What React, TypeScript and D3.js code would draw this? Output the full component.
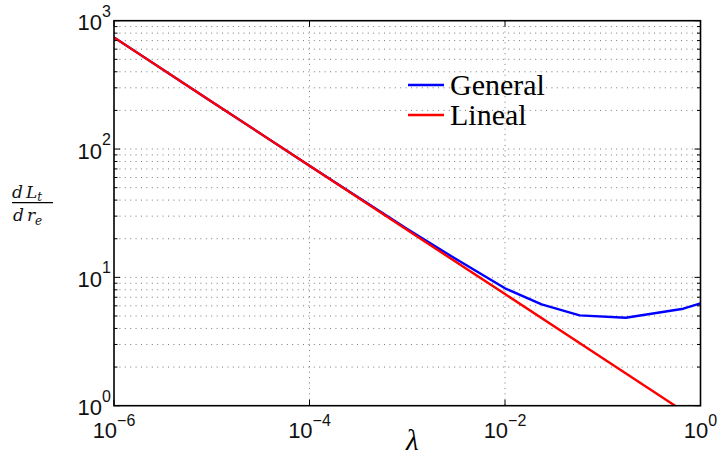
import React from "react";
import * as d3 from "d3";

// Sensitivity dLt/dre against lambda, general solution and linear approximation
const lambdaGeneral = [1e-6, 1e-5, 1e-4, 1e-3, 3e-3, 1e-2, 0.0237, 0.058, 0.172, 0.667, 1];
const dLtGeneral = [741, 234, 74.1, 23.8, 14.2, 8.22, 6.17, 5.06, 4.85, 5.7, 6.28];

const lambdaLineal = [1e-6, 1e-5, 1e-4, 1e-3, 1e-2, 1e-1, 1];
const dLtLineal = [741, 234, 74.1, 23.4, 7.41, 2.34, 0.741];

const xTickExps = [-6, -4, -2, 0];
const yTickExps = [0, 1, 2, 3];

const legendLabels = ["General", "Lineal"];
const seriesColors = ["#0000ff", "#ff0000"];

const W = 719;
const H = 459;
const M = { left: 114, right: 700.5, top: 20.7, bottom: 405.7 };

export default function App() {
  const x = d3.scaleLog().domain([1e-6, 1]).range([M.left, M.right]);
  const y = d3.scaleLog().domain([1, 1000]).range([M.bottom, M.top]);

  const line = d3
    .line<[number, number]>()
    .x((d) => x(d[0]))
    .y((d) => y(d[1]));

  const general = lambdaGeneral.map((l, i) => [l, dLtGeneral[i]] as [number, number]);
  const lineal = lambdaLineal.map((l, i) => [l, dLtLineal[i]] as [number, number]);

  // Horizontal grid at every 1..9 subdivision of each decade
  const yGrid: number[] = [];
  for (let e = 0; e < 3; e++) for (let k = 1; k <= 9; k++) yGrid.push(k * Math.pow(10, e));
  yGrid.push(1000);

  const gridStyle = { stroke: "#555", strokeWidth: 0.8, strokeDasharray: "1,4.4" };

  return (
    <svg
      width={W}
      height={H}
      style={{ position: "absolute", left: 0, top: 0, background: "#fff" }}
    >
      <defs>
        <clipPath id="plotClip">
          <rect x={M.left} y={M.top} width={M.right - M.left} height={M.bottom - M.top} />
        </clipPath>
      </defs>
      <rect x={0} y={0} width={W} height={H} fill="#fff" />

      {/* grid */}
      {yGrid
        .filter((v) => v > 1 && v < 1000)
        .map((v, i) => (
          <line key={"gy" + i} x1={M.left} x2={M.right} y1={y(v)} y2={y(v)} {...gridStyle} />
        ))}
      {xTickExps
        .filter((e) => e > -6 && e < 0)
        .map((e) => (
          <line
            key={"gx" + e}
            x1={x(Math.pow(10, e))}
            x2={x(Math.pow(10, e))}
            y1={M.top}
            y2={M.bottom}
            {...gridStyle}
          />
        ))}

      {/* series */}
      <g clipPath="url(#plotClip)">
        <path d={line(general) || ""} fill="none" stroke={seriesColors[0]} strokeWidth={2.4} strokeLinejoin="round" />
        <path d={line(lineal) || ""} fill="none" stroke={seriesColors[1]} strokeWidth={2.4} strokeLinejoin="round" />
      </g>

      {/* ticks */}
      {yGrid.map((v, i) => {
        const major = Math.abs(Math.log10(v) - Math.round(Math.log10(v))) < 1e-9;
        const len = major ? 6 : 3.5;
        return (
          <g key={"ty" + i} stroke="#000" strokeWidth={1}>
            <line x1={M.left} x2={M.left + len} y1={y(v)} y2={y(v)} />
            <line x1={M.right} x2={M.right - len} y1={y(v)} y2={y(v)} />
          </g>
        );
      })}
      {xTickExps.map((e) => (
        <g key={"tx" + e} stroke="#000" strokeWidth={1}>
          <line x1={x(Math.pow(10, e))} x2={x(Math.pow(10, e))} y1={M.bottom} y2={M.bottom - 6} />
          <line x1={x(Math.pow(10, e))} x2={x(Math.pow(10, e))} y1={M.top} y2={M.top + 6} />
        </g>
      ))}

      {/* axes box */}
      <rect
        x={M.left}
        y={M.top}
        width={M.right - M.left}
        height={M.bottom - M.top}
        fill="none"
        stroke="#000"
        strokeWidth={1.6}
      />

      {/* tick labels */}
      {xTickExps.map((e) => (
        <text
          key={"lx" + e}
          x={x(Math.pow(10, e))}
          y={M.bottom + 32.5}
          textAnchor="middle"
          fontFamily="'Liberation Sans', Arial, sans-serif"
          fontSize={22}
          fill="#111"
        >
          10
          <tspan dy={-12.5} fontSize={16}>
            {e < 0 ? "\u2212" + Math.abs(e) : String(e)}
          </tspan>
        </text>
      ))}
      {yTickExps.map((e) => (
        <text
          key={"ly" + e}
          x={M.left - 3}
          y={y(Math.pow(10, e)) + 9.5}
          textAnchor="end"
          fontFamily="'Liberation Sans', Arial, sans-serif"
          fontSize={22}
          fill="#111"
        >
          10
          <tspan dy={-13.5} fontSize={16}>
            {String(e)}
          </tspan>
        </text>
      ))}

      {/* axis labels */}
      <text
        x={(M.left + M.right) / 2 + 5}
        y={450}
        textAnchor="middle"
        fontFamily="'Liberation Serif', 'Times New Roman', serif"
        fontStyle="italic"
        fontSize={29}
        fill="#000"
      >
        λ
      </text>
      <g fontFamily="'DejaVu Serif', 'Liberation Serif', serif" fontStyle="italic" fill="#111">
        <text x={12} y={197.5} fontSize={17}>
          d
          <tspan dx={3}>L</tspan>
          <tspan dy={3.5} fontSize={12}>t</tspan>
        </text>
        <line x1={12} x2={53} y1={202.7} y2={202.7} stroke="#000" strokeWidth={1.3} />
        <text x={13} y={221} fontSize={17}>
          d
          <tspan dx={3}>r</tspan>
          <tspan dy={3.5} fontSize={12}>e</tspan>
        </text>
      </g>

      {/* legend */}
      {legendLabels.map((lab, i) => (
        <g key={"lg" + i}>
          <line x1={408} x2={444} y1={85 + i * 30} y2={85 + i * 30} stroke={seriesColors[i]} strokeWidth={2.4} />
          <text
            x={450}
            y={94.5 + i * 30}
            fontFamily="'Liberation Serif', 'Times New Roman', serif"
            fontSize={30}
            fill="#000"
          >
            {lab}
          </text>
        </g>
      ))}
    </svg>
  );
}
